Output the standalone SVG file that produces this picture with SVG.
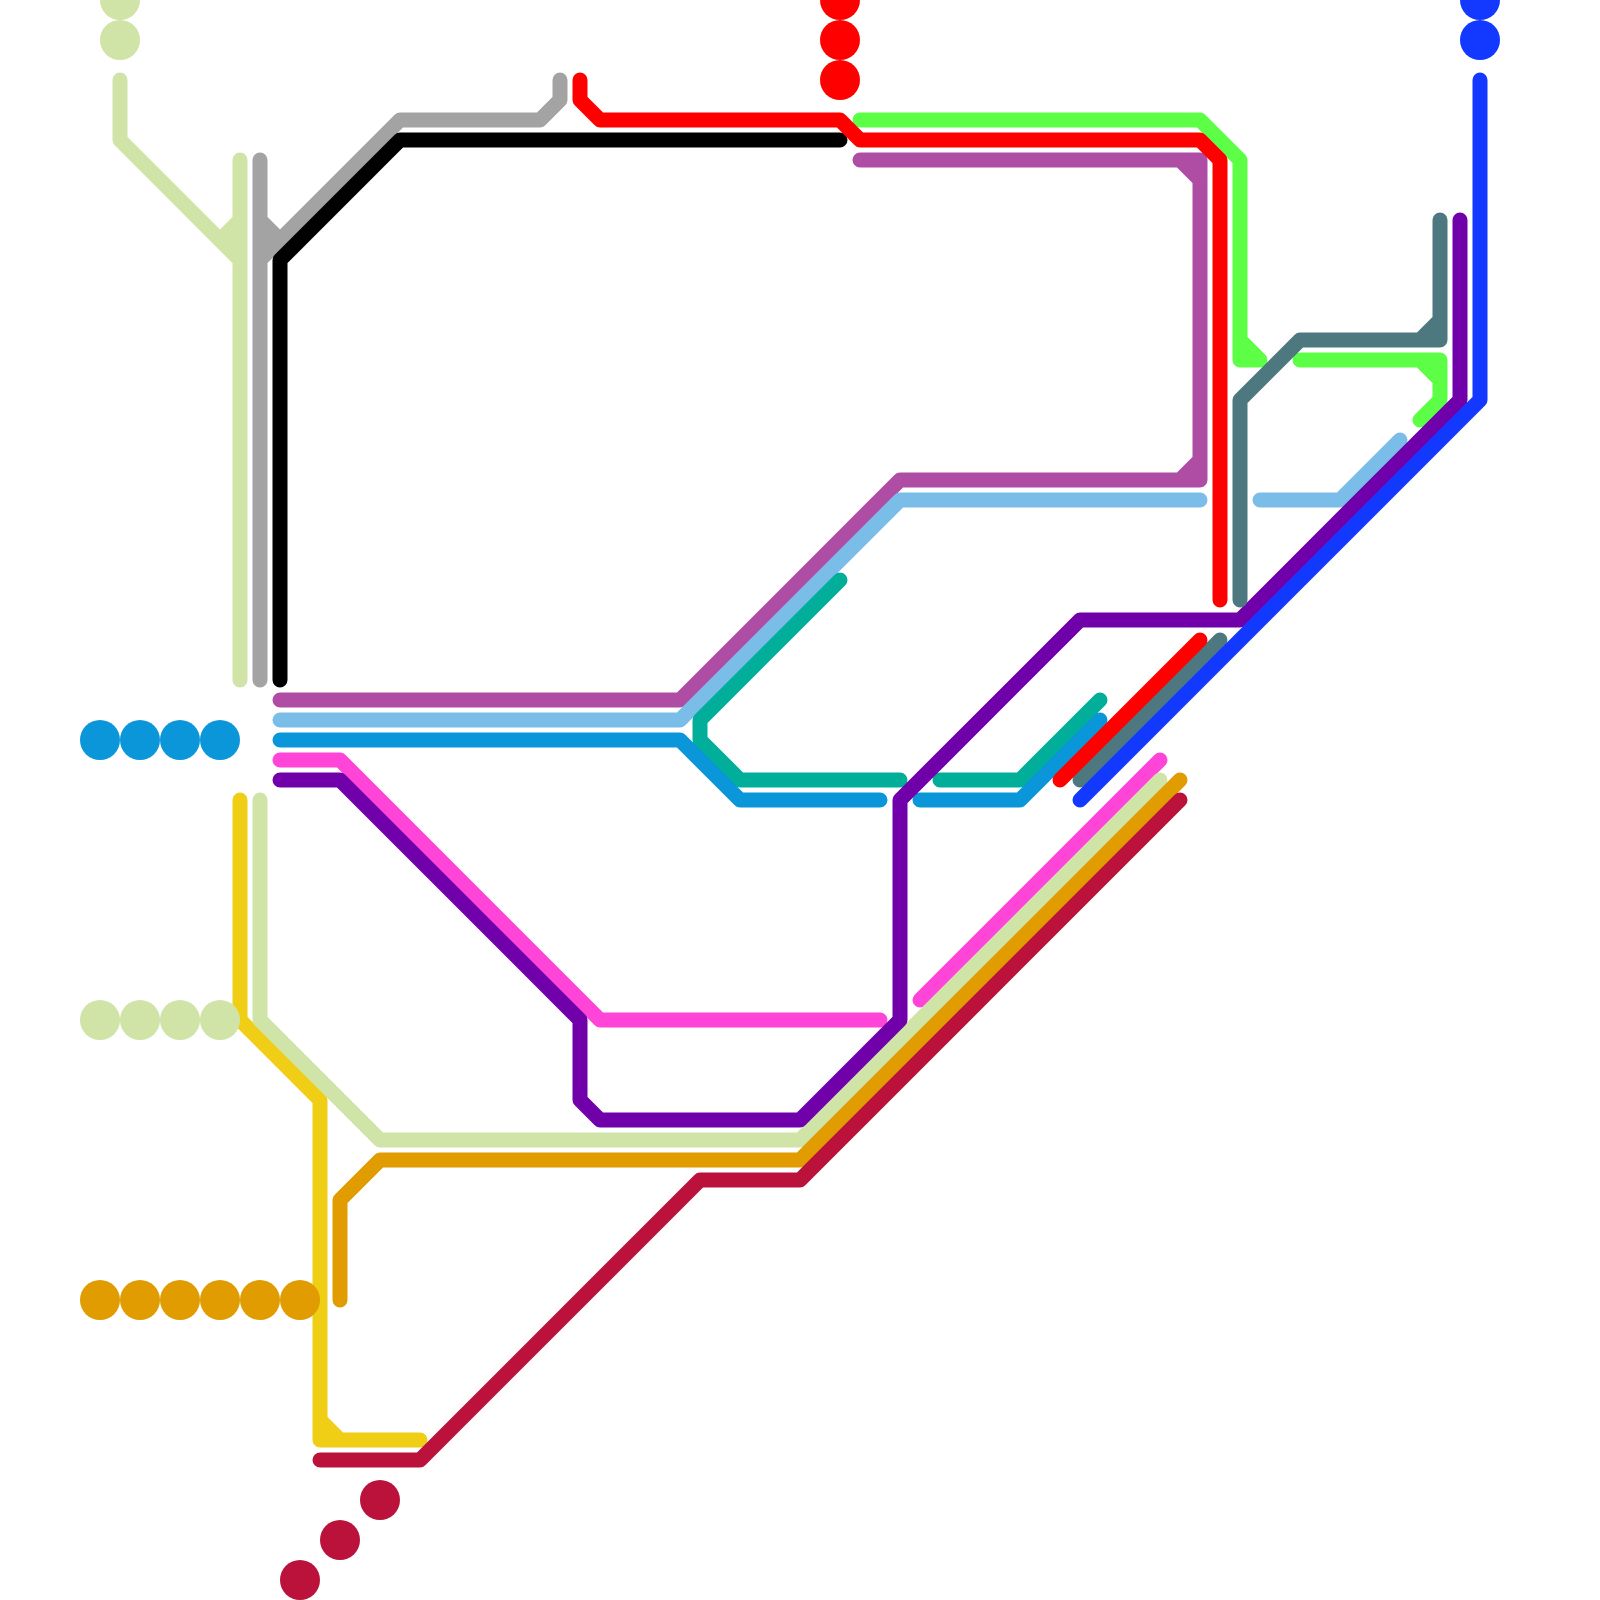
<svg xmlns="http://www.w3.org/2000/svg" width="1600" height="1600" viewBox="0 0 1600 1600">
<style>
path{fill:none;stroke-width:15;stroke-linecap:round;stroke-linejoin:round}
.lg{stroke:#CFE4A6}.gy{stroke:#A3A3A3}.bk{stroke:#000}.rd{stroke:#F00}.gn{stroke:#5CFF45}.mv{stroke:#AE4DA3}.lb{stroke:#7ABDE8}.tl{stroke:#00AE9A}.bl{stroke:#0A96D8}.mg{stroke:#FF44D8}.pu{stroke:#7000AA}.ye{stroke:#F0CE15}.or{stroke:#E09C00}.cr{stroke:#BA123A}.gt{stroke:#4E7880}.rb{stroke:#1338FF}
circle{stroke:none}
.flg{fill:#CFE4A6}.frd{fill:#F00}.fbl{fill:#0A96D8}.for{fill:#E09C00}.fcr{fill:#BA123A}.frb{fill:#1338FF}
</style>
<rect width="1600" height="1600" fill="#fff"/>
<g id="connectors">
<path class="lg" d="M120 80V140L240 260M240 220L220 240H240ZM240 160V680"/>
<path class="gy" d="M260 160V680M260 220L280 240H260ZM560 80V100L540 120H400L260 260"/>
<path class="bk" d="M280 680V260L400 140H840"/>
<path class="gn" d="M860 120H1200L1240 160V360H1260L1240 340"/>
<path class="gn" d="M1300 360H1440V400L1420 420M1420 360L1440 380V360Z"/>
<path class="mv" d="M860 160H1200V480H900L680 700H280M1180 160L1200 180V160ZM1200 460L1180 480H1200Z"/>
<path class="lb" d="M280 720H680L900 500H1200"/>
<path class="lb" d="M1260 500H1340L1400 440"/>
<path class="tl" d="M840 580L700 720V740L740 780H900"/>
<path class="tl" d="M940 780H1020L1100 700"/>
<path class="bl" d="M280 740H680L740 800H880"/>
<path class="bl" d="M920 800H1020L1100 720"/>
<path class="mg" d="M280 760H340L600 1020H880"/>
<path class="mg" d="M920 1000L1160 760"/>
<path class="ye" d="M240 800V1020L320 1100V1440H420M320 1420L340 1440H320Z"/>
<path class="lg" d="M260 800V1020L380 1140H800L1160 780"/>
<path class="pu" d="M280 780H340L580 1020V1100L600 1120H800L900 1020V800L1080 620H1240L1460 400V220"/>
<path class="or" d="M340 1300V1200L380 1160H800L1180 780"/>
<path class="cr" d="M320 1460H420L700 1180H800L1180 800"/>
<path class="gt" d="M1440 220V340H1300L1240 400V600M1420 340L1440 320V340Z"/>
<path class="gt" d="M1080 780L1220 640"/>
<path class="rd" d="M580 80V100L600 120H840L860 140H1200L1220 160V600"/>
<path class="rd" d="M1060 780L1200 640"/>
<path class="rb" d="M1080 800L1480 400V80"/>
</g>
<g id="station-lightgreen-top" class="flg"><circle cx="120" cy="0" r="20"/><circle cx="120" cy="40" r="20"/></g>
<g id="station-red-top" class="frd"><circle cx="840" cy="0" r="20"/><circle cx="840" cy="40" r="20"/><circle cx="840" cy="80" r="20"/></g>
<g id="station-royal-top" class="frb"><circle cx="1480" cy="0" r="20"/><circle cx="1480" cy="40" r="20"/></g>
<g id="station-blue" class="fbl"><circle cx="100" cy="740" r="20"/><circle cx="140" cy="740" r="20"/><circle cx="180" cy="740" r="20"/><circle cx="220" cy="740" r="20"/></g>
<g id="station-lightgreen" class="flg"><circle cx="100" cy="1020" r="20"/><circle cx="140" cy="1020" r="20"/><circle cx="180" cy="1020" r="20"/><circle cx="220" cy="1020" r="20"/></g>
<g id="station-orange" class="for"><circle cx="100" cy="1300" r="20"/><circle cx="140" cy="1300" r="20"/><circle cx="180" cy="1300" r="20"/><circle cx="220" cy="1300" r="20"/><circle cx="260" cy="1300" r="20"/><circle cx="300" cy="1300" r="20"/></g>
<g id="station-crimson" class="fcr"><circle cx="380" cy="1500" r="20"/><circle cx="340" cy="1540" r="20"/><circle cx="300" cy="1580" r="20"/></g>
</svg>
